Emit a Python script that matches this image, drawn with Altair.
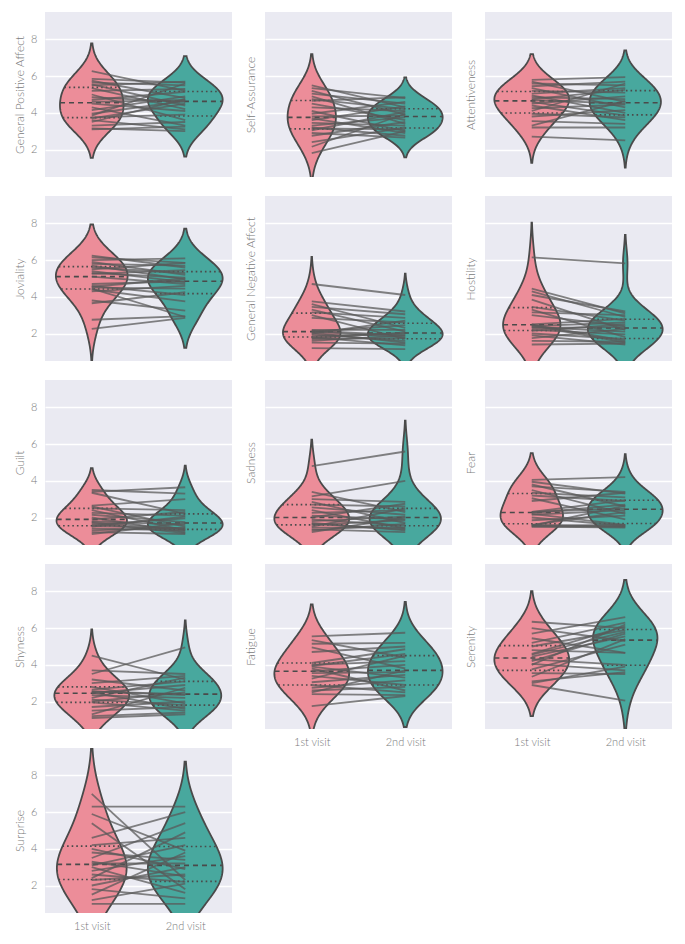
import altair as alt
import pandas as pd

PINK = "#EC8D99"
TEAL = "#48A89E"
EDGE = "#4A4A4A"
BG = "#EAEAF2"
TXT = "#7A7A7A"
FONT = "Lato"
BW_FACTOR = 1.55

visit_labels = ["1st visit", "2nd visit"]
y_ticks = [2, 4, 6, 8]

gpa_1 = [6.27, 5.85, 5.75, 5.65, 5.55, 5.5, 5.35, 5.2, 5.0, 4.85, 4.7, 4.6, 4.5, 4.3, 4.15, 3.95, 3.85, 3.75, 3.7, 3.6, 3.5, 3.3, 3.15, 3.1]
gpa_2 = [5.2, 5.65, 4.8, 5.5, 4.4, 5.7, 4.2, 5.3, 3.6, 4.6, 5.15, 4.7, 4.1, 3.3, 4.9, 4.65, 5.6, 3.9, 4.5, 3.1, 4.75, 3.5, 3.0, 3.25]

sa_1 = [5.5, 5.35, 5.2, 5.05, 4.9, 4.75, 4.65, 4.5, 4.3, 4.1, 3.95, 3.8, 3.7, 3.6, 3.45, 3.3, 3.2, 3.15, 3.05, 2.9, 2.75, 2.4, 2.15, 1.8]
sa_2 = [4.3, 4.8, 3.9, 4.5, 3.4, 4.2, 4.85, 3.6, 4.1, 3.0, 4.6, 3.85, 2.9, 4.35, 3.3, 3.75, 2.75, 3.1, 4.05, 2.65, 3.5, 3.2, 3.95, 3.0]

att_1 = [5.8, 5.7, 5.6, 5.45, 5.35, 5.2, 5.05, 4.95, 4.85, 4.75, 4.7, 4.6, 4.5, 4.4, 4.25, 4.1, 3.95, 3.8, 3.55, 3.3, 3.2, 2.7]
att_2 = [5.95, 4.6, 5.5, 5.7, 4.3, 5.1, 5.35, 4.0, 4.75, 5.25, 4.5, 3.85, 4.9, 3.6, 4.45, 5.6, 3.75, 4.15, 3.4, 4.65, 3.2, 2.5]

jov_1 = [6.25, 6.15, 6.0, 5.9, 5.8, 5.7, 5.6, 5.5, 5.4, 5.3, 5.25, 5.1, 4.7, 4.6, 4.55, 4.5, 4.45, 4.4, 4.3, 3.8, 3.65, 2.75, 2.25]
jov_2 = [5.6, 5.85, 6.1, 5.2, 5.7, 4.95, 5.3, 5.85, 4.8, 5.05, 5.45, 4.7, 4.85, 4.1, 5.0, 4.45, 2.9, 3.75, 4.6, 3.25, 4.25, 2.95, 2.85]

gna_1 = [4.7, 3.75, 3.6, 3.45, 3.3, 3.15, 3.0, 2.85, 2.15, 2.1, 2.05, 2.2, 2.1, 2.0, 1.95, 1.85, 1.8, 1.75, 1.7, 1.6, 1.5, 1.2]
gna_2 = [4.1, 3.2, 2.3, 3.05, 2.1, 2.85, 1.7, 2.6, 1.9, 2.45, 1.5, 2.2, 1.8, 2.7, 1.6, 2.0, 1.35, 2.05, 1.75, 1.9, 1.45, 1.15]

hos_1 = [6.15, 4.45, 4.3, 4.1, 3.85, 3.45, 3.3, 3.15, 3.0, 2.5, 2.4, 2.35, 2.5, 2.45, 2.3, 2.2, 2.15, 2.0, 1.9, 1.75, 1.6, 1.4]
hos_2 = [5.82, 3.1, 2.9, 3.2, 2.2, 2.7, 1.8, 3.0, 2.4, 1.6, 2.6, 2.1, 2.8, 1.5, 2.35, 1.95, 2.5, 1.7, 1.4, 2.25, 1.55, 1.45]

gui_1 = [3.5, 3.4, 3.35, 2.65, 2.6, 2.5, 2.4, 2.25, 2.15, 2.0, 1.9, 1.8, 1.7, 1.6, 1.55, 1.5, 1.4, 1.3, 1.2, 1.1, 1.75]
gui_2 = [3.3, 3.65, 2.2, 3.0, 1.5, 2.4, 1.3, 2.1, 1.75, 1.2, 2.3, 1.6, 1.15, 1.95, 1.4, 2.05, 1.3, 1.45, 1.1, 1.7, 1.35]

sad_1 = [4.8, 3.15, 3.4, 3.0, 2.85, 2.7, 2.55, 2.4, 2.25, 2.1, 2.0, 1.9, 1.8, 1.7, 1.6, 1.5, 1.45, 1.35, 1.3, 1.2, 1.65]
sad_2 = [5.6, 4.0, 2.3, 2.85, 1.7, 2.6, 2.15, 1.4, 2.4, 1.9, 2.75, 1.55, 2.05, 1.3, 1.85, 2.5, 1.45, 1.2, 1.65, 2.0, 1.35]

fear_1 = [4.05, 3.95, 3.8, 3.7, 3.5, 3.35, 3.2, 3.05, 2.9, 2.3, 2.25, 2.2, 2.3, 2.15, 2.0, 1.85, 1.6, 1.55, 1.55, 1.5, 1.5, 1.6]
fear_2 = [4.2, 3.3, 2.6, 3.4, 2.2, 3.1, 2.9, 1.9, 3.35, 2.5, 2.7, 1.6, 2.95, 2.4, 1.55, 2.1, 1.5, 1.6, 2.65, 1.5, 1.45, 2.3]

shy_1 = [4.5, 3.7, 3.5, 3.2, 3.0, 2.8, 2.65, 2.55, 2.5, 2.45, 2.35, 2.2, 2.1, 2.0, 1.95, 1.7, 1.5, 1.3, 1.2, 1.1, 2.55]
shy_2 = [3.2, 3.5, 4.95, 2.6, 3.4, 1.9, 3.1, 2.4, 1.6, 2.9, 2.2, 3.3, 1.8, 2.5, 1.5, 2.0, 1.7, 2.75, 1.4, 1.3, 2.35]

fat_1 = [5.55, 5.35, 5.15, 4.95, 4.7, 3.95, 3.9, 4.1, 4.0, 3.8, 3.65, 3.55, 3.4, 3.25, 3.05, 2.9, 2.75, 2.6, 2.5, 2.4, 1.75]
fat_2 = [5.75, 4.4, 5.2, 3.8, 5.0, 4.6, 3.3, 4.85, 4.2, 2.6, 4.0, 3.6, 2.9, 4.5, 3.45, 2.5, 3.15, 2.8, 3.7, 2.35, 2.3]

ser_1 = [6.35, 6.0, 5.7, 5.45, 5.2, 5.0, 4.8, 4.6, 4.45, 4.3, 4.2, 4.05, 4.0, 3.75, 3.55, 3.35, 3.0, 2.9, 3.1, 4.55]
ser_2 = [6.0, 5.3, 6.6, 4.65, 6.3, 5.9, 4.65, 6.1, 5.55, 4.0, 5.7, 3.7, 6.2, 5.1, 3.5, 5.4, 3.9, 2.05, 3.6, 5.8]

sur_1 = [7.0, 6.3, 5.9, 5.4, 4.6, 4.2, 4.0, 3.8, 3.5, 3.3, 3.2, 3.1, 3.0, 2.8, 2.6, 2.4, 2.3, 2.0, 1.8, 1.5, 1.0, 1.2]
sur_2 = [2.3, 6.3, 3.9, 1.8, 6.0, 4.6, 2.9, 3.4, 5.4, 2.5, 3.2, 4.2, 1.6, 3.6, 2.2, 4.9, 2.6, 3.0, 1.3, 3.8, 1.0, 2.1]

panels = [
    ("General Positive Affect", gpa_1, gpa_2),
    ("Self-Assurance", sa_1, sa_2),
    ("Attentiveness", att_1, att_2),
    ("Joviality", jov_1, jov_2),
    ("General Negative Affect", gna_1, gna_2),
    ("Hostility", hos_1, hos_2),
    ("Guilt", gui_1, gui_2),
    ("Sadness", sad_1, sad_2),
    ("Fear", fear_1, fear_2),
    ("Shyness", shy_1, shy_2),
    ("Fatigue", fat_1, fat_2),
    ("Serenity", ser_1, ser_2),
    ("Surprise", sur_1, sur_2),
]
x_label_panels = {"Fatigue", "Serenity", "Surprise"}

W, H = 187, 165


def make_panel(title, v1, v2, first_col, show_x):
    df = pd.DataFrame({
        "subject": list(range(len(v1))) + list(range(len(v2))),
        "visit": [0] * len(v1) + [1] * len(v2),
        "value": v1 + v2,
    })
    yscale = alt.Scale(domain=[0.5, 9.5], nice=False, zero=False)
    xscale = alt.Scale(domain=[-0.5, 1.5], nice=False, zero=False)
    yaxis = alt.Axis(values=y_ticks, labels=first_col, title=title,
                     titlePadding=4 if first_col else 8, grid=True,
                     ticks=False, domain=False, labelPadding=8)
    if show_x:
        xaxis = alt.Axis(values=[0, 1], grid=False, ticks=False, domain=False,
                         title=None, labelPadding=7,
                         labelExpr=f"datum.value < 0.5 ? '{visit_labels[0]}' : '{visit_labels[1]}'")
    else:
        xaxis = None

    base = alt.Chart(df)

    dens = base.transform_joinaggregate(
        vmin="min(value)", vmax="max(value)", sd="stdev(value)", n="valid(value)",
        q1="q1(value)", med="median(value)", q3="q3(value)", groupby=["visit"],
    ).transform_calculate(
        bw=f"{BW_FACTOR} * datum.sd * pow(datum.n, -0.2)"
    ).transform_calculate(
        z="(datum.value - datum.vmin) / datum.bw",
        zmax="(datum.vmax - datum.vmin) / datum.bw",
    ).transform_density(
        "z", groupby=["visit", "vmin", "bw", "zmax", "q1", "med", "q3"],
        bandwidth=1, extent=[-2.0, 16.0], steps=361, as_=["zz", "dz"],
    ).transform_filter(
        "datum.zz <= datum.zmax + 2.0001"
    ).transform_calculate(
        yv="datum.vmin + datum.zz * datum.bw", d="datum.dz / datum.bw"
    ).transform_joinaggregate(
        maxd="max(d)"
    ).transform_calculate(
        xl="datum.visit - 0.4 * datum.d / datum.maxd",
        xr="datum.visit + 0.4 * datum.d / datum.maxd",
    )

    area = dens.mark_area(orient="horizontal", stroke=EDGE, strokeWidth=1.8,
                          opacity=1, clip=True).encode(
        y=alt.Y("yv:Q", scale=yscale, axis=yaxis, title=title),
        x=alt.X("xl:Q", scale=xscale, axis=xaxis, title=None),
        x2="xr:Q",
        color=alt.Color("visit:N", scale=alt.Scale(domain=[0, 1], range=[PINK, TEAL]), legend=None),
    )

    quart = dens.transform_fold(["q1", "med", "q3"], as_=["qn", "qv"]).transform_calculate(
        dist="abs(datum.yv - datum.qv)"
    ).transform_joinaggregate(
        mind="min(dist)", groupby=["visit", "qn"]
    ).transform_filter("datum.dist == datum.mind")

    enc = dict(
        y=alt.Y("qv:Q", scale=yscale, axis=yaxis, title=title),
        x=alt.X("xl:Q", scale=xscale, axis=xaxis, title=None),
        x2="xr:Q",
    )
    med_rule = quart.transform_filter("datum.qn == 'med'").mark_rule(
        color=EDGE, strokeWidth=1.6, strokeDash=[5, 4]).encode(**enc)
    q_rule = quart.transform_filter("datum.qn != 'med'").mark_rule(
        color=EDGE, strokeWidth=1.6, strokeDash=[1.6, 3]).encode(**enc)

    lines = base.mark_line(color="#5A5A5A", opacity=0.75, strokeWidth=1.8, clip=True).encode(
        x=alt.X("visit:Q", scale=xscale, axis=xaxis, title=None),
        y=alt.Y("value:Q", scale=yscale, axis=yaxis, title=title),
        detail="subject:N",
    )
    return alt.layer(area, med_rule, q_rule, lines).properties(width=W, height=H)


charts = []
for i, (t, a, b) in enumerate(panels):
    charts.append(make_panel(t, a, b, i % 3 == 0, t in x_label_panels))

chart = alt.concat(
    *charts, columns=3,
    spacing=alt.RowColnumber(row=19, column=33), bounds="flush",
).properties(
    padding={"left": 5, "top": 4, "right": 5, "bottom": 5}
).configure_view(
    fill=BG, stroke=None
).configure_axis(
    labelFont=FONT, titleFont=FONT, labelFontSize=11, titleFontSize=12,
    labelColor=TXT, titleColor=TXT, titleFontWeight=300, labelFontWeight=300,
    gridColor="white", gridWidth=1.4,
)

chart.save("out.html", embed_options={"renderer": "svg", "actions": False})
